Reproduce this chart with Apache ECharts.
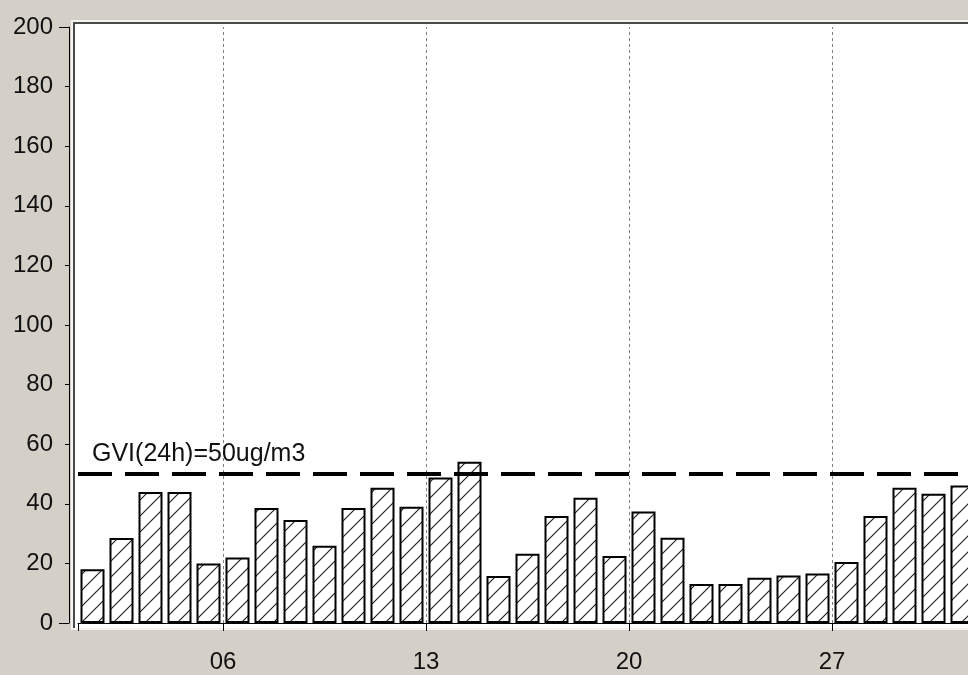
<!DOCTYPE html>
<html>
<head>
<meta charset="utf-8">
<script src="https://cdn.jsdelivr.net/npm/echarts@6/dist/echarts.min.js"></script>
<style>
html,body{margin:0;padding:0;background:#D4D0C8;overflow:hidden}
#c{width:968px;height:675px}
</style>
</head>
<body>
<div id="c"></div>
<script>
// ---- data (day of month, daily PM10 mean) ----
const days = [1,2,3,4,5,6,7,8,9,10,11,12,13,14,15,16,17,18,19,20,21,22,23,24,25,26,27,28,29,30,31];
const pm10 = [18,28.5,44,44,20,22,38.6,34.6,25.9,38.6,45.4,39,48.8,54.1,15.8,23.2,35.9,42,22.5,37.4,28.6,13.1,13.1,15.2,15.9,16.6,20.5,35.9,45.4,43.4,46.1];
const limitValue = 50;
const limitLabel = 'GVI(24h)=50ug/m3';
const weekDays = [6,13,20,27];        // labelled ticks + dashed grid lines
const tickDays = [1,6,13,20,27];      // tick marks on the x axis
const yMin = 0, yMax = 200, yStep = 20;

const FONT = '"Liberation Sans", Arial, sans-serif';

function hatch() {
  const s = 16;
  const c = document.createElement('canvas');
  c.width = s; c.height = s;
  const g = c.getContext('2d');
  g.fillStyle = '#ffffff';
  g.fillRect(0, 0, s, s);
  g.strokeStyle = '#1a1a1a';
  g.lineWidth = 1.1;
  g.beginPath();
  g.moveTo(-2, s + 2); g.lineTo(s + 2, -2);
  g.moveTo(-2, 2); g.lineTo(2, -2);
  g.moveTo(s - 2, s + 2); g.lineTo(s + 2, s - 2);
  g.stroke();
  return c;
}

const chart = echarts.init(document.getElementById('c'), null, {renderer: 'canvas'});

const option = {
  backgroundColor: '#D4D0C8',
  animation: false,
  textStyle: {fontFamily: FONT},
  graphic: [
    {type: 'rect', z: -10, silent: true, shape: {x: 71, y: 20, width: 920, height: 610}, style: {fill: '#f4f3ef'}},
    {type: 'rect', z: -9, silent: true, shape: {x: 73, y: 22, width: 920, height: 606}, style: {fill: '#4a4a4a'}},
    {type: 'rect', z: -8, silent: true, shape: {x: 75, y: 24, width: 920, height: 604}, style: {fill: '#ffffff'}}
  ],
  grid: {left: 78, right: 0, top: 27, bottom: 52},
  xAxis: {
    type: 'value',
    min: 1,
    max: 1 + 890 / 29,
    offset: 7,
    axisLine: {lineStyle: {color: '#000', width: 1}},
    axisTick: {show: true, customValues: tickDays, length: 8, lineStyle: {color: '#000'}},
    axisLabel: {
      customValues: weekDays,
      formatter: v => String(v).padStart(2, '0'),
      fontSize: 24, color: '#111', margin: 20, fontFamily: FONT
    },
    splitLine: {show: false}
  },
  yAxis: [
    {
      type: 'value', min: yMin, max: yMax, interval: yStep, offset: 9,
      axisLine: {show: true, lineStyle: {color: '#000'}},
      axisTick: {show: true, length: 4, lineStyle: {color: '#000'}},
      axisLabel: {fontSize: 24, color: '#111', margin: 16, fontFamily: FONT},
      splitLine: {show: false}
    },
    {
      type: 'value', min: yMin, max: yMax, interval: yMax - yMin, offset: 9, position: 'left',
      axisLine: {show: false},
      axisTick: {show: true, length: 10, lineStyle: {color: '#000'}},
      axisLabel: {show: false},
      splitLine: {show: false}
    }
  ],
  series: [
    {
      type: 'line', data: [], z: 1, silent: true,
      markLine: {
        silent: true, symbol: 'none', animation: false,
        label: {show: false},
        lineStyle: {color: '#808080', type: [3, 3], width: 1},
        data: weekDays.map(d => ({xAxis: d}))
      }
    },
    {
      type: 'bar', z: 2, barWidth: 24, yAxisIndex: 0,
      data: days.map((d, i) => [d + 0.5, pm10[i]]),
      itemStyle: {color: {image: hatch(), repeat: 'repeat'}, borderColor: '#000', borderWidth: 2},
      markLine: {
        silent: true, symbol: 'none', animation: false,
        lineStyle: {color: '#000', width: 4, type: [34, 13]},
        label: {
          show: true, position: 'insideStartTop', formatter: limitLabel,
          fontSize: 25, color: '#111', fontFamily: FONT, distance: [14, 7]
        },
        data: [{yAxis: limitValue}]
      }
    }
  ]
};
chart.setOption(option);
</script>
</body>
</html>
